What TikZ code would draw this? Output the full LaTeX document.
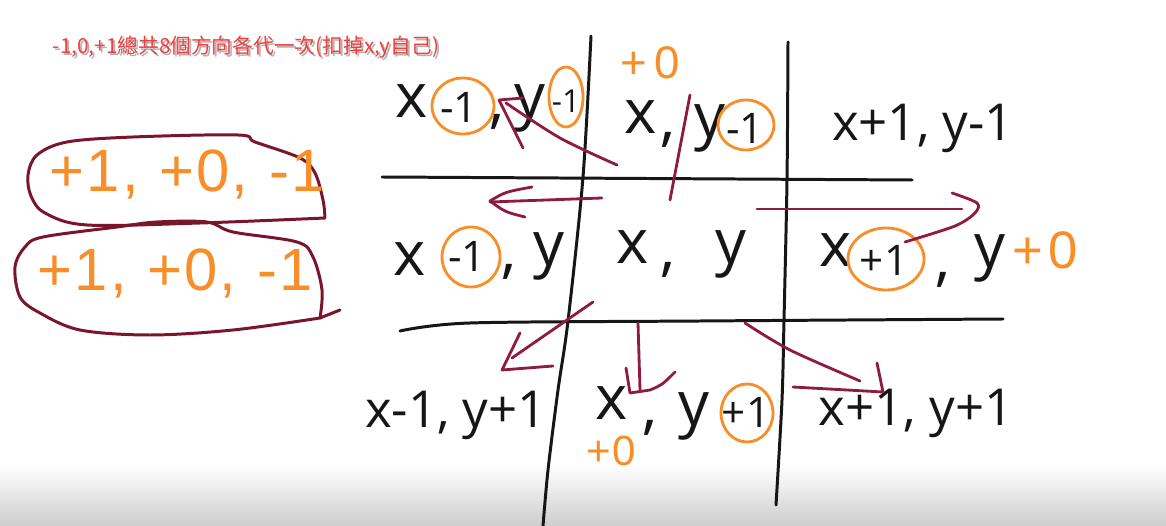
\documentclass[tikz,border=0pt]{standalone}
\usepackage{fontspec}
\setmainfont{Open Sans}
\newfontfamily\cjkfont{Noto Sans CJK TC}
\newfontfamily\libfont{Liberation Sans}
\newcommand\ksp{\kern1.2pt}
\definecolor{inkc}{RGB}{22,22,22}
\definecolor{wine}{RGB}{142,28,60}
\definecolor{ovalc}{RGB}{122,22,44}
\definecolor{orgc}{RGB}{247,142,42}
\definecolor{ttlc}{RGB}{242,62,62}
\begin{document}
\begin{tikzpicture}[x=0.02cm,y=-0.02cm,line cap=round,line join=round,
  penline/.style={draw=inkc,line width=1.7pt},
  redline/.style={draw=wine,line width=1.6pt},
  ringo/.style={draw=orgc,line width=1.6pt},
  ovalline/.style={draw=ovalc,line width=1.7pt},
  hand/.style={text=inkc,inner sep=0pt,font=\fontsize{35}{37}\selectfont},
  handm/.style={text=inkc,inner sep=0pt,font=\fontsize{29}{31}\selectfont},
  handc/.style={text=inkc,inner sep=0pt,font=\fontsize{24}{26}\selectfont},
  hands/.style={text=inkc,inner sep=0pt,font=\fontsize{18}{20}\selectfont},
  orng/.style={text=orgc,inner sep=0pt,font=\libfont\fontsize{34}{36}\selectfont},
  orngs/.style={text=orgc,inner sep=0pt,font=\libfont\fontsize{26}{28}\selectfont},
]
\useasboundingbox (0,0) rectangle (1166,526);
\fill[white] (0,0) rectangle (1166,526);
\shade[top color=white,bottom color={rgb,255:red,205;green,205;blue,205}] (0,465) rectangle (1166,526);

% title
\node[inner sep=0pt,text=black!30,font=\cjkfont\fontsize{11.8}{13}\selectfont] (titleshadow) at (248,49.5) {-1,0,+1總共8個方向各代一次(扣掉x,y自己)};
\node[inner sep=0pt,text=ttlc,font=\cjkfont\fontsize{11.8}{13}\selectfont] (title) at (246,47) {-1,0,+1總共8個方向各代一次(扣掉x,y自己)};

% grid
\draw[penline] plot[smooth] coordinates {(591,36) (583,177) (568,321) (558,390) (548,470) (543,526)};
\draw[penline] plot[smooth] coordinates {(788,42) (787,180) (784,320) (782,400) (776,505)};
\draw[penline] (382,177) -- (912,180);
\draw[penline] plot[smooth] coordinates {(400,331) (470,323) (700,321) (1003,319)};

% ovals
\draw[ovalline] plot[smooth,tension=0.55] coordinates {(325,218) (323,200) (315,173) (300,158) (255,142) (238,135) (133,137) (67,142) (37,155) (28,175) (31,196) (45,213) (87,225) (200,223) (325,218)};
\draw[ovalline] (340,310) -- (320,318);
\draw[ovalline] plot[smooth,tension=0.55] coordinates {(320,318) (233,330) (150,335) (80,330) (40,313) (20,297) (15,267) (25,247) (43,237) (117,227) (157,222) (207,222) (233,232) (297,242) (313,257) (322,290) (320,318)};
\node[orng,anchor=west] (ovaltxtA) at (49.5,174) {+\ksp1\ksp,\ksp\ \ksp+\ksp0\ksp,\ksp\ \ksp-\ksp1};
\node[orng,anchor=west] (ovaltxtB) at (37.5,273) {+\ksp1\ksp,\ksp\ \ksp+\ksp0\ksp,\ksp\ \ksp-\ksp1};

% row 1
\node[hand] (ax) at (412,101) {x};
\draw[ringo] (463,106) ellipse [x radius=31,y radius=28];
\node[handc] (am) at (459,107) {-1};
\node[hand] (ac) at (497,122) {,};
\node[hand] (ay) at (530,108) {y};
\draw[ringo] (566,97) ellipse [x radius=17,y radius=30];
\node[hands] (am2) at (566,101) {-1};

\node[orngs] (bo) at (650,63) {+\kern4pt0};
\node[hand] (bx) at (641,117) {x};
\node[hand] (bc) at (668,140) {,};
\node[hand] (by) at (710,128) {y};
\draw[ringo] (746,125) ellipse [x radius=28,y radius=25];
\node[handc] (bm) at (745,128) {-1};

\node[handm] (ct) at (923,128) {x+1, y-1};

% row 2
\node[hand] (dx) at (410,259) {x};
\draw[ringo] (471,257) ellipse [x radius=29,y radius=30];
\node[handc] (dm) at (467,256) {-1};
\node[hand] (dc) at (509,272) {,};
\node[hand] (dy) at (549,256) {y};

\node[hand] (ex) at (633,247) {x};
\node[hand] (ec) at (668,270) {,};
\node[hand] (ey) at (731,254) {y};

\node[hand] (fx) at (836,250) {x};
\draw[ringo] (886,259) ellipse [x radius=38,y radius=31];
\node[handc] (fp) at (884,260) {+1};
\node[hand] (fc) at (943,280) {,};
\node[hand] (fy) at (990,258) {y};
\node[orngs,font=\libfont\fontsize{30}{32}\selectfont] (fo) at (1045,250) {+\kern3pt0};

% row 3
\node[handm] (gt) at (456,415) {x-1, y+1};
\node[hand] (hx) at (612,403) {x};
\node[orngs,font=\libfont\fontsize{24}{26}\selectfont] (ho) at (611,451) {+\kern1pt0};
\node[hand] (hc) at (650,428) {,};
\node[hand] (hy) at (694,416) {y};
\draw[ringo] (747,413) ellipse [x radius=26,y radius=29];
\node[handc] (hp) at (746,412) {+1};
\node[handm] (it) at (916,413) {x+1, y+1};

% red arrows
\draw[redline] plot[smooth] coordinates {(617,165) (560,138) (506,103)};
\draw[redline] (523,98) -- (499,100) -- (523,148);
\draw[redline] (690,95) -- (670,200);
\draw[redline] (602,198) -- (490,202);
\draw[redline] (532,187) .. controls (505,192) .. (490,201) .. controls (505,212) .. (525,217);
\draw[redline] (757,209) -- (962,209);
\draw[redline] plot[smooth] coordinates {(952,193) (977,203) (975,213) (955,226) (905,242)};
\draw[redline] (593,302) -- (512,358);
\draw[redline] (520,333) -- (502,370) -- (553,366);
\draw[redline] (638,323) -- (640,390);
\draw[redline] (626,368) -- (630,393) -- (650,390) .. controls (662,385) .. (675,372);
\draw[redline] plot[smooth] coordinates {(745,323) (790,350) (860,381)};
\draw[redline] (877,363) -- (883,392) -- (793,387);
\end{tikzpicture}
\end{document}
